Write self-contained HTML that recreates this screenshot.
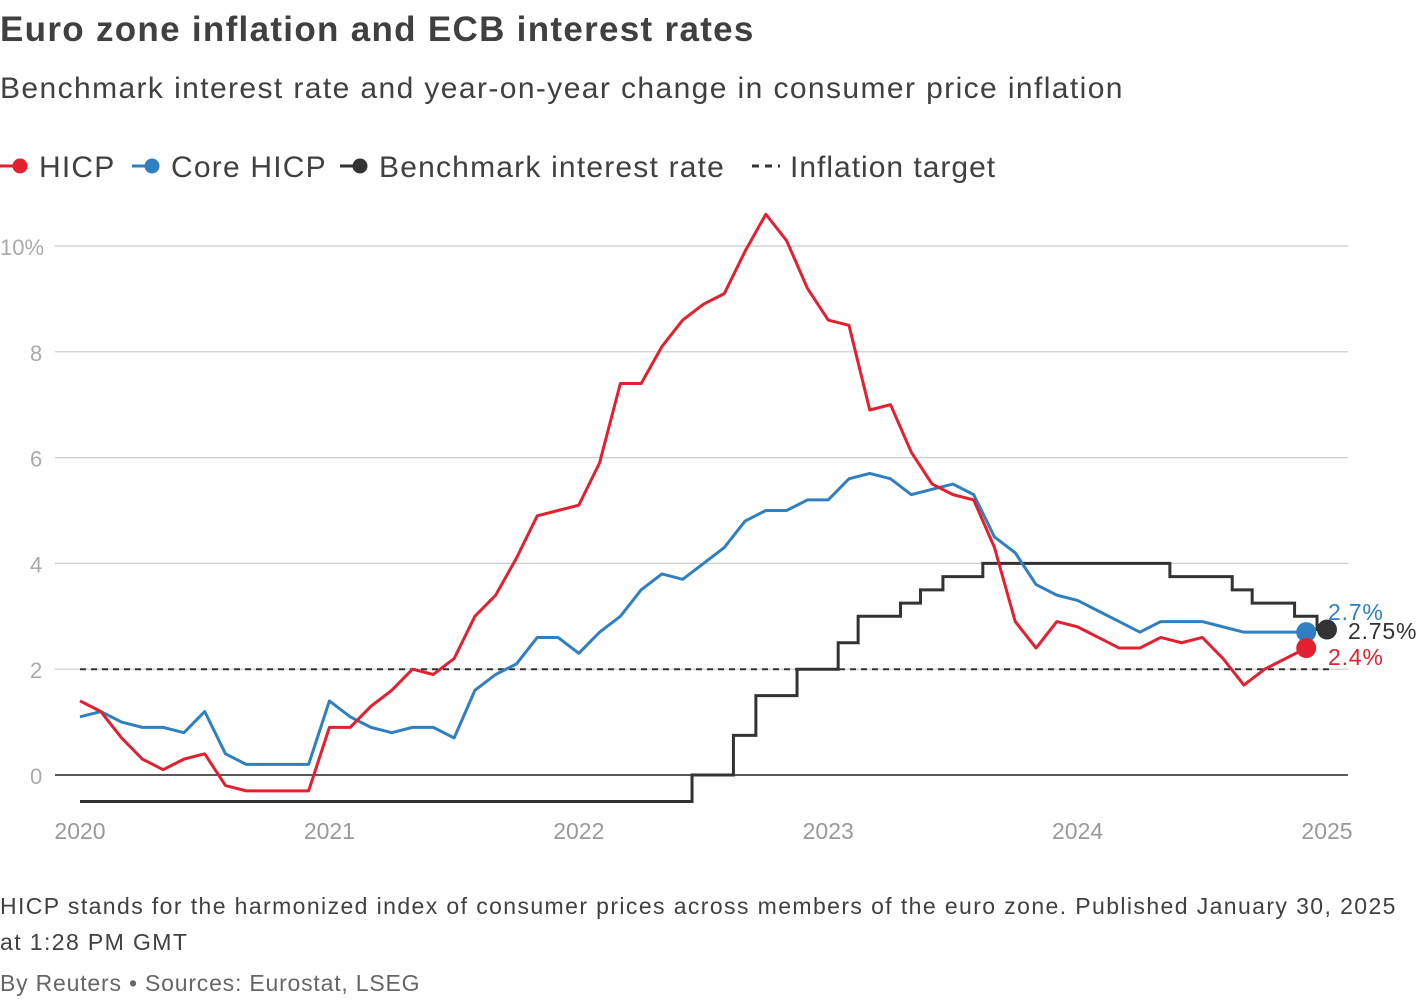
<!DOCTYPE html>
<html><head><meta charset="utf-8">
<style>
body{margin:0;background:#fff;width:1420px;height:1000px;overflow:hidden;font-family:"Liberation Sans",sans-serif;}
.t{position:absolute;white-space:nowrap;}
</style></head>
<body>
<div class="t" style="left:0;top:10px;font-size:35px;font-weight:bold;color:#404040;letter-spacing:1.3px;">Euro zone inflation and ECB interest rates</div>
<div class="t" style="left:0;top:72px;font-size:30px;color:#404040;letter-spacing:1.4px;">Benchmark interest rate and year-on-year change in consumer price inflation</div>
<div class="t" style="left:0;top:888px;font-size:23px;color:#404040;line-height:36px;letter-spacing:1.4px;">HICP stands for the harmonized index of consumer prices across members of the euro zone. Published January 30, 2025<br>at 1:28 PM GMT</div>
<div class="t" style="left:0;top:970px;font-size:23px;color:#666;letter-spacing:0.8px;">By Reuters • Sources: Eurostat, LSEG</div>
<svg id="chart" width="1420" height="1000" style="position:absolute;left:0;top:0;" font-family="Liberation Sans, sans-serif"></svg>
<script>
const hicpStart = 2020;
const hicp = [1.4,1.2,0.7,0.3,0.1,0.3,0.4,-0.2,-0.3,-0.3,-0.3,-0.3,
0.9,0.9,1.3,1.6,2.0,1.9,2.2,3.0,3.4,4.1,4.9,5.0,
5.1,5.9,7.4,7.4,8.1,8.6,8.9,9.1,9.9,10.6,10.1,9.2,
8.6,8.5,6.9,7.0,6.1,5.5,5.3,5.2,4.3,2.9,2.4,2.9,
2.8,2.6,2.4,2.4,2.6,2.5,2.6,2.2,1.7,2.0,2.2,2.4];
const core = [1.1,1.2,1.0,0.9,0.9,0.8,1.2,0.4,0.2,0.2,0.2,0.2,
1.4,1.1,0.9,0.8,0.9,0.9,0.7,1.6,1.9,2.1,2.6,2.6,
2.3,2.7,3.0,3.5,3.8,3.7,4.0,4.3,4.8,5.0,5.0,5.2,
5.2,5.6,5.7,5.6,5.3,5.4,5.5,5.3,4.5,4.2,3.6,3.4,
3.3,3.1,2.9,2.7,2.9,2.9,2.9,2.8,2.7,2.7,2.7,2.7];
const rateDates = [2020.0,2022.454,2022.62,2022.71,2022.875,2023.04,2023.12,2023.29,2023.37,2023.46,2023.62,2024.37,2024.62,2024.70,2024.87,2024.96,2025.0];
const rateValues = [-0.5,0,0.75,1.5,2.0,2.5,3.0,3.25,3.5,3.75,4.0,3.75,3.5,3.25,3.0,2.75,2.75];
const target = 2;
const yTicks = [0,2,4,6,8,10];
const xTicks = [2020,2021,2022,2023,2024,2025];

const svg = document.getElementById('chart');
const NS='http://www.w3.org/2000/svg';
const X = t => 80 + (t-2020)*249.4;
const Y = v => 775 - v*52.9;
function mk(tag, attrs, parent){const e=document.createElementNS(NS,tag);for(const k in attrs)e.setAttribute(k,attrs[k]);(parent||svg).appendChild(e);return e;}

yTicks.forEach(v=>{
  const l=mk('line',{x1:55,x2:1348,y1:Y(v),y2:Y(v),stroke:v===0?'#222':'#ccc','stroke-width':v===0?1.5:1.2});
  
  
  const t=mk('text',{x:v===10?0:30,y:Y(v)+9,'font-size':22,fill:'#aaa'});
  t.textContent = v===10?'10%':String(v);
  
  
});
xTicks.forEach(y=>{
  const t=mk('text',{x:X(y),y:839,'font-size':23,fill:'#999','text-anchor':'middle'});
  t.textContent=String(y);
  
  
});
const tl=mk('line',{x1:X(2020),x2:X(2025)+4,y1:Y(target),y2:Y(target),stroke:'#333','stroke-width':2,'stroke-dasharray':'6,5'});



let rp='';
for(let i=0;i<rateDates.length;i++){
  rp += (i===0?'M':'L')+X(rateDates[i])+','+Y(rateValues[i]);
  if(i<rateDates.length-1) rp+='L'+X(rateDates[i+1])+','+Y(rateValues[i]);
}
const rl=mk('path',{d:rp,fill:'none',stroke:'#333','stroke-width':3});



function series(arr,color,name){
  const d=arr.map((v,i)=>(i?'L':'M')+X(hicpStart+i/12)+','+Y(v)).join('');
  const p=mk('path',{d:d,fill:'none',stroke:color,'stroke-width':3,'stroke-linejoin':'round'});
  
  
}
series(core,'#2f7fc1','core-hicp-line');
series(hicp,'#e3202f','hicp-line');

const lastT = hicpStart+(hicp.length-1)/12;
const c1=mk('circle',{cx:X(lastT),cy:Y(core[core.length-1]),r:10,fill:'#2f7fc1'});

const c2=mk('circle',{cx:X(lastT),cy:Y(hicp[hicp.length-1]),r:10,fill:'#e3202f'});

const c3=mk('circle',{cx:X(2025),cy:Y(rateValues[rateValues.length-1]),r:10,fill:'#333'});


function lab(txt,x,y,col,name){const t=mk('text',{x:x,y:y,'font-size':23,fill:col,'letter-spacing':'0.8'});t.textContent=txt;
}
lab(core[core.length-1]+'%',1328,620,'#2f7fc1','core-end-label');
lab(rateValues[rateValues.length-1]+'%',1348,639,'#333','rate-end-label');
lab(hicp[hicp.length-1]+'%',1328,665,'#e3202f','hicp-end-label');

// legend
const leg=[['HICP','#e3202f',0,false],['Core HICP','#2f7fc1',132,false],['Benchmark interest rate','#333',340,false],['Inflation target','#333',750,true]];
leg.forEach(([txt,col,x,dash])=>{
  const g=mk('g',{});
  
  
  if(dash){mk('line',{x1:x+2,x2:x+30,y1:166,y2:166,stroke:col,'stroke-width':3,'stroke-dasharray':'7,6'},g);}
  else{mk('line',{x1:x,x2:x+18,y1:166,y2:166,stroke:col,'stroke-width':3},g);mk('circle',{cx:x+20,cy:166,r:7.5,fill:col},g);}
  const t=mk('text',{x:x+(dash?40:39),y:177,'font-size':30,fill:'#404040','letter-spacing':dash?'1.0':'1.2'},g);t.textContent=txt;
});
</script>
</body></html>
